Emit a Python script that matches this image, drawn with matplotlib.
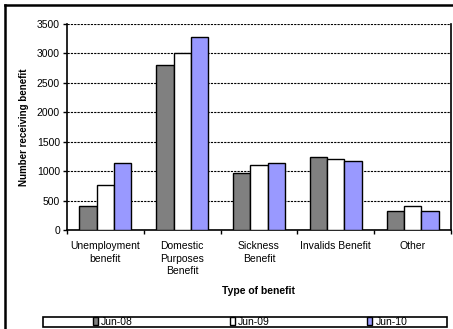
import numpy as np
import matplotlib
matplotlib.use('Agg')
import matplotlib.pyplot as plt
from matplotlib.patches import Rectangle
from matplotlib.lines import Line2D

plt.rcParams['font.family'] = ['Liberation Sans', 'DejaVu Sans']

categories = ["Unemployment\nbenefit", "Domestic\nPurposes\nBenefit", "Sickness\nBenefit",
              "Invalids Benefit", "Other"]
series_names = ["Jun-08", "Jun-09", "Jun-10"]
jun08 = [400, 2800, 970, 1240, 330]
jun09 = [765, 3000, 1100, 1200, 400]
jun10 = [1135, 3280, 1135, 1165, 330]
colors = ["#808080", "#FFFFFF", "#9999FF"]

W, H = 453, 329
fig = plt.figure(figsize=(W / 100, H / 100), dpi=100)
ax = fig.add_axes([67 / W, 1 - 230 / H, (451 - 67) / W, (230 - 24) / H])

x = np.arange(len(categories))
bw = 0.225
handles = []
for i, (vals, col) in enumerate(zip([jun08, jun09, jun10], colors)):
    b = ax.bar(x + (i - 1) * bw, vals, bw, color=col, edgecolor='black', linewidth=1,
               zorder=3, label=series_names[i])
    handles.append(b)

ax.set_xlim(-0.5, len(categories) - 0.5)
ax.set_ylim(0, 3500)
ax.set_yticks(range(0, 3501, 500))
ax.yaxis.grid(True, color='black', linestyle=(0, (2, 1)), linewidth=0.8, zorder=0)
ax.set_axisbelow(True)

ax.set_xticks(x)
ax.set_xticklabels(categories, fontsize=7.5, linespacing=1.3, va='top')
ax.set_xticks(np.arange(-0.5, len(categories)), minor=True)
ax.tick_params(axis='x', which='major', length=0, pad=8)
ax.tick_params(axis='x', which='minor', length=3, width=1, direction='out')
ax.tick_params(axis='y', length=3, width=1, direction='out', labelsize=7.5, pad=2)

for s in ['left', 'bottom', 'right']:
    ax.spines[s].set_linewidth(1.2)
ax.spines['top'].set_visible(False)

ax.set_xlabel("Type of benefit", fontsize=7.5, fontweight='bold', labelpad=7)
ax.set_ylabel("Number receiving benefit", fontsize=7, fontweight='bold', labelpad=6)

# legend box
fig.add_artist(Rectangle((43 / W, 1 - 327 / H), (447 - 43) / W, 10 / H,
                         transform=fig.transFigure, facecolor='white',
                         edgecolor='black', linewidth=1.2))
fig.legend(handles=handles, loc='center', bbox_to_anchor=(250 / W, 1 - 322 / H),
           ncol=3, frameon=False, fontsize=7.5, handlelength=0.5, handleheight=0.8,
           handletextpad=0.3, columnspacing=9.3, borderpad=0)

# outer chart frame
fig.add_artist(Line2D([5 / W, 5 / W], [0, 1 - 5 / H], transform=fig.transFigure,
                      color='black', linewidth=1.8))
fig.add_artist(Line2D([5 / W, 1], [1 - 5 / H, 1 - 5 / H], transform=fig.transFigure,
                      color='black', linewidth=1.8))

fig.savefig('out.png', dpi=100)
